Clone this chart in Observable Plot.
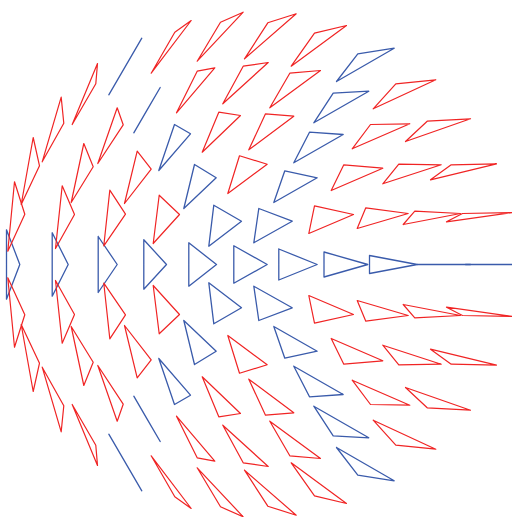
<!DOCTYPE html>
<html><head><meta charset="utf-8">
<script src="https://cdn.jsdelivr.net/npm/d3@7"></script>
<script src="https://cdn.jsdelivr.net/npm/@observablehq/plot@0.6"></script>
<style>html,body{margin:0;padding:0;background:#fff;overflow:hidden}</style>
</head><body><div id="chart"></div>
<script>
// Triangle colour class ("axis" = blue, "field" = red), one per triangle
const kind = [
  // centre row
  "axis","axis","axis","axis","axis","axis","axis","axis","axis","axis","axis",
  // upper half
  "field","field","field","field","axis","field","field","field","field","axis","field","field","field","field",
  "field","field","field","axis","field","field","field","axis","field","field","field",
  "field","field","axis","field","field","axis","field","field",
  "field","axis","field","axis","field","axis","axis",
  // lower half
  "field","field","field","field","axis","field","field","field","field","axis","field","field","field","field",
  "field","field","field","axis","field","field","field","axis","field","field","field",
  "field","field","axis","field","field","axis","field","field",
  "field","axis","field","axis","field","axis","axis"
];
// vertex A
const ax = [6,51.7,97.7,143.3,188.3,233.3,278.3,323.5,369,416.7,465,
  7.3,20.7,41.7,71.7,108.3,150.7,196.7,244,290.7,336,372.7,405,430,446,
  55,70.7,97.3,133.3,176,222.3,269.3,313.3,351.7,382.3,402.7,
  103.3,124,158.3,201.7,248.3,293.3,330.7,356.7,
  152.7,183.3,227.3,273.3,308.3,208.3,253.3,
  7.3,20.7,41.7,71.7,108.3,150.7,196.7,244,290.7,336,372.7,405,430,446,
  55,70.7,97.3,133.3,176,222.3,269.3,313.3,351.7,382.3,402.7,
  103.3,124,158.3,201.7,248.3,293.3,330.7,356.7,
  152.7,183.3,227.3,273.3,308.3,208.3,253.3];
const ay = [229.3,232.3,236,239.3,242.3,245.3,248.5,251.5,255,264,264,
  250.7,204,161.3,124,94.3,72.7,60.7,58.3,65.7,81,108.3,141,179.3,221.3,
  248,202,163,132.3,112.3,103.3,107.3,122.3,148.3,183.3,224,
  245.3,203,170,151.7,149.3,162.3,190,228,
  243,208,193,202,233,245.7,242.3,
  277.3,324,366.7,404,433.7,455.3,467.3,469.7,462.3,447,419.7,387,348.7,306.7,
  280,326,365,395.7,415.7,424.7,420.7,405.7,379.7,344.7,304,
  282.7,325,358,376.3,378.7,365.7,338,300,
  285,320,335,326,295,282.3,285.7];
// vertex B
const bx = [6,51.7,97.7,143.3,188.3,233.3,278.3,323.5,369,416.7,465,
  14,32.7,60.7,97,141.3,190.7,242.7,295.7,346,393.7,435.3,470,496,512,
  61.7,83.3,116.7,159.7,214.3,267.7,320,368.3,409.3,440.7,460,
  109.3,136.7,174,218.3,265,342.7,382.3,407.7,
  158.7,194,239,284.3,314,213.3,258.3,
  14,32.7,60.7,97,141.3,190.7,242.7,295.7,346,393.7,435.3,470,496,512,
  61.7,83.3,116.7,159.7,214.3,267.7,320,368.3,409.3,440.7,460,
  109.3,136.7,174,218.3,265,342.7,382.3,407.7,
  158.7,194,239,284.3,314,213.3,258.3];
const by = [298.7,295.7,292,288.7,285.7,282.7,279.5,276.5,273,264,264,
  181.3,137,96.7,63,37.7,20,11.7,13.3,25,47.7,79.3,118.3,163.3,212,
  185.3,143,107.3,87,67.3,62,70,90.7,123.3,164.3,213,
  189.7,150.7,124,111.7,113.3,134,167.7,213,
  194.7,164,155.3,170.3,205.3,204.7,208,
  346.7,391,431.3,465,490.3,508,516.3,514.7,503,480.3,448.7,409.7,364.7,316,
  342.7,385,420.7,441,460.7,466,458,437.3,404.7,363.7,315,
  338.3,377.3,404,416.3,414.7,394,360.3,315,
  333.3,364,372.7,357.7,322.7,323.3,320];
// vertex C (apex)
const cx = [19.3,67.7,116.7,166,216,266.7,316.7,367.3,416.7,470,530,
  24.3,39,63.3,95.3,124.8,174.3,220,267.3,314,357.3,395.3,426.7,450.7,462,
  74,92.7,122.7,146.5,196.7,242.7,289.3,332.7,370,398.3,414.3,
  125,150.7,190,240,293.3,309,343.3,365.3,
  179,215.7,266.7,316.7,353,241,291.7,
  24.3,39,63.3,95.3,124.8,174.3,220,267.3,314,357.3,395.3,426.7,450.7,462,
  74,92.7,122.7,146.5,196.7,242.7,289.3,332.7,370,398.3,414.3,
  125,150.7,190,240,293.3,309,343.3,365.3,
  179,215.7,266.7,316.7,353,241,291.7];
const cy = [264,264,264,264,264,264,264,264,264,264,264,
  213.7,165.3,122.7,83.3,66,31.7,21.7,22.3,32.7,53.3,83.3,120.7,164.3,213,
  214,166.3,124.3,109.7,70.7,65.7,72.7,92.7,124,163.7,210.7,
  213.7,168.7,133.3,115,115.7,131.7,164.3,207.3,
  214,177.3,163.7,177.3,214,220.7,220.7,
  314.3,362.7,405.3,444.7,462,496.3,506.3,505.7,495.3,474.7,444.7,407.3,363.7,315,
  314,361.7,403.7,418.3,457.3,462.3,455.3,435.3,404,364.3,317.3,
  314.3,359.3,394.7,413,412.3,396.3,363.7,320.7,
  314,350.7,364.3,350.7,314,307.3,307.3];

const rows = [];
kind.forEach((k, i) => {
  const verts = [[ax[i], ay[i]], [bx[i], by[i]], [cx[i], cy[i]], [ax[i], ay[i]]];
  verts.forEach(([x, y]) => rows.push({id: i, kind: k, x, y}));
});

const chart = Plot.plot({
  width: 512, height: 517, margin: 0,
  x: {domain: [0, 512], range: [0, 512], axis: null},
  y: {domain: [0, 517], range: [0, 517], axis: null},
  color: {domain: ["axis", "field"], range: ["#3a5bab", "#f02424"]},
  marks: [
    Plot.line(rows.filter(d => d.kind === "axis"), {x: "x", y: "y", z: "id", stroke: "kind", strokeWidth: 1.3}),
    Plot.line(rows.filter(d => d.kind === "field"), {x: "x", y: "y", z: "id", stroke: "kind", strokeWidth: 1.2})
  ]
});
document.getElementById("chart").append(chart);
</script>
</body></html>
